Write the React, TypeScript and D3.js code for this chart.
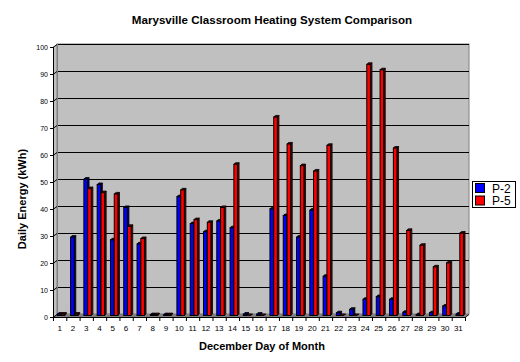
import React, { useEffect, useRef } from 'react';
import * as d3 from 'd3';

const days = d3.range(1, 32).map(String);
const p2 = [0.5, 29, 50.5, 48.5, 28, 40, 26.5, 0.3, 0.3, 44, 34, 31, 35, 32.5, 0.5, 0.5,
  39.5, 37, 29, 39, 14.5, 1, 2.3, 6, 7, 6, 1.2, 0.3, 1, 3.5, 0.5];
const p5 = [0.5, 0.5, 47, 45.5, 45, 33, 28.5, 0.3, 0.3, 46.5, 35.5, 34.5, 40, 56, 0, 0,
  73.5, 63.5, 55.5, 53.5, 63, 0, 0, 93, 91, 62, 31.5, 26, 18, 19.5, 30.5];
const yTicks = d3.range(0, 101, 10);
const seriesNames = ['P-2', 'P-5'];
const seriesColors = ['#0000ff', '#ff0000'];
const sideColors = ['#000060', '#600000'];

const Chart = ({ width, height }) => {
  const ref = useRef(null);

  useEffect(() => {
    const svg = d3.select(ref.current);
    svg.selectAll('*').remove();

    const left = 53, right = 465, top = 47, bottom = 317;
    const dx = 4, dy = -3; // depth of the 3d box

    const x = d3.scaleBand().domain(days).range([left, right]);
    const y = d3.scaleLinear().domain([0, 100]).range([bottom, top]);
    const bw = x.bandwidth();

    // side wall
    svg.append('polygon')
      .attr('points', [[left, top], [left + dx, top + dy], [left + dx, bottom + dy], [left, bottom]].join(' '))
      .attr('fill', '#c0c0c0');

    // back wall
    svg.append('rect')
      .attr('x', left + dx).attr('y', top + dy)
      .attr('width', right - left).attr('height', bottom - top)
      .attr('fill', '#c0c0c0')
      .attr('stroke', '#808080');

    // gridlines
    svg.append('g').selectAll('line')
      .data(yTicks.filter(d => d > 0))
      .join('line')
      .attr('x1', left + dx).attr('x2', right + dx)
      .attr('y1', d => y(d) + dy + 0.5).attr('y2', d => y(d) + dy + 0.5)
      .attr('stroke', '#000');

    // floor
    svg.append('polygon')
      .attr('points', [[left, bottom], [right, bottom], [right + dx, bottom + dy], [left + dx, bottom + dy]].join(' '))
      .attr('fill', '#808080');

    svg.append('line')
      .attr('x1', left + dx + 0.5).attr('x2', left + dx + 0.5)
      .attr('y1', top + dy).attr('y2', bottom + dy)
      .attr('stroke', '#808080');

    // bars
    const bars = svg.append('g');
    const bd = 1.6, fw = 3.6;
    [p2, p5].forEach((vals, s) => {
      vals.forEach((v, i) => {
        const x0 = x(days[i]) + 4.3 + s * 3.8;
        const y0 = y(v) - 1.5;
        const y1 = bottom - 1.5;
        // side
        bars.append('polygon')
          .attr('points', [[x0 + fw, y1], [x0 + fw, y0], [x0 + fw + bd, y0 - bd], [x0 + fw + bd, y1 - bd]].join(' '))
          .attr('fill', sideColors[s]).attr('stroke', '#000').attr('stroke-width', 0.8);
        // top
        bars.append('polygon')
          .attr('points', [[x0, y0], [x0 + fw, y0], [x0 + fw + bd, y0 - bd], [x0 + bd, y0 - bd]].join(' '))
          .attr('fill', sideColors[s]).attr('stroke', '#000').attr('stroke-width', 0.8);
        // front
        bars.append('rect')
          .attr('x', x0).attr('y', y0)
          .attr('width', fw).attr('height', Math.max(0, y1 - y0))
          .attr('fill', seriesColors[s]).attr('stroke', '#000').attr('stroke-width', 1);
      });
    });

    // y axis
    const ya = svg.append('g');
    ya.append('line')
      .attr('x1', left + 0.5).attr('x2', left + 0.5)
      .attr('y1', top).attr('y2', bottom)
      .attr('stroke', '#000');
    const yt = ya.selectAll('g').data(yTicks).join('g');
    yt.append('line')
      .attr('x1', left - 3).attr('x2', left)
      .attr('y1', d => y(d) + 0.5).attr('y2', d => y(d) + 0.5)
      .attr('stroke', '#000');
    yt.append('line')
      .attr('x1', left).attr('x2', left + dx)
      .attr('y1', d => y(d) + 0.5).attr('y2', d => y(d) + dy + 0.5)
      .attr('stroke', '#000');
    yt.append('text')
      .attr('x', left - 5).attr('y', d => y(d) + 2.5)
      .attr('text-anchor', 'end')
      .style('font', '7px Arial, sans-serif')
      .text(d => d);

    // x axis
    const xa = svg.append('g');
    xa.append('line')
      .attr('x1', left).attr('x2', right)
      .attr('y1', bottom + 0.5).attr('y2', bottom + 0.5)
      .attr('stroke', '#000');
    xa.append('line')
      .attr('x1', right).attr('x2', right + dx)
      .attr('y1', bottom + 0.5).attr('y2', bottom + dy + 0.5)
      .attr('stroke', '#000');
    xa.selectAll('line.tick')
      .data(days.concat(['end']))
      .join('line')
      .attr('class', 'tick')
      .attr('x1', d => (d === 'end' ? right : x(d)) + 0.5)
      .attr('x2', d => (d === 'end' ? right : x(d)) + 0.5)
      .attr('y1', bottom).attr('y2', bottom + 4)
      .attr('stroke', '#000');
    xa.selectAll('text')
      .data(days)
      .join('text')
      .attr('x', d => x(d) + bw / 2)
      .attr('y', bottom + 14)
      .attr('text-anchor', 'middle')
      .style('font', '8px Arial, sans-serif')
      .text(d => d);

    // titles
    svg.append('text')
      .attr('x', 272).attr('y', 24)
      .attr('text-anchor', 'middle')
      .style('font', 'bold 11.6px Arial, sans-serif')
      .text('Marysville Classroom Heating System Comparison');
    svg.append('text')
      .attr('x', 262).attr('y', 350)
      .attr('text-anchor', 'middle')
      .style('font', 'bold 11px Arial, sans-serif')
      .text('December Day of Month');
    svg.append('text')
      .attr('transform', 'translate(26,199) rotate(-90)')
      .attr('text-anchor', 'middle')
      .style('font', 'bold 11px Arial, sans-serif')
      .text('Daily Energy (kWh)');

    // legend
    const lg = svg.append('g').attr('transform', 'translate(472,181)');
    lg.append('rect')
      .attr('x', 0.5).attr('y', 0.5).attr('width', 43).attr('height', 26)
      .attr('fill', '#fff').attr('stroke', '#000');
    seriesNames.forEach((n, i) => {
      lg.append('rect')
        .attr('x', 3.5).attr('y', 2.5 + i * 12.5).attr('width', 9).attr('height', 9)
        .attr('fill', seriesColors[i]).attr('stroke', '#000');
      lg.append('text')
        .attr('x', 20).attr('y', 11.5 + i * 12.5)
        .style('font', '12px Arial, sans-serif')
        .text(n);
    });
  }, [width, height]);

  return <svg ref={ref} width={width} height={height} />;
};

export default function App() {
  return (
    <div style={{ position: 'absolute', left: 0, top: 0, background: '#fff' }}>
      <Chart width={520} height={362} />
    </div>
  );
}
